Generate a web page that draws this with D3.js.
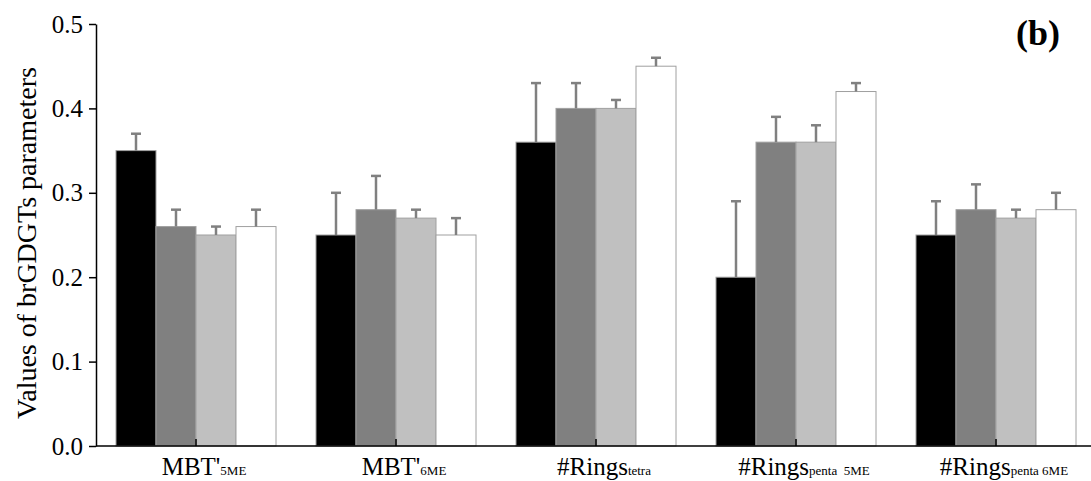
<!DOCTYPE html>
<html>
<head>
<meta charset="utf-8">
<script src="https://cdn.jsdelivr.net/npm/d3@7"></script>
<style>
  body { margin: 0; background: #fff; }
  text { font-family: "Liberation Serif", "Times New Roman", serif; }
</style>
</head>
<body>
<div id="wrapper"></div>
<script>
// categories: [main label, subscript]
const categories = [
  ["MBT'", "5ME"],
  ["MBT'", "6ME"],
  ["#Rings", "tetra"],
  ["#Rings", "penta  5ME"],
  ["#Rings", "penta 6ME"],
];
const seriesNames = ["s1", "s2", "s3", "s4"];
const seriesColors = ["#000000", "#808080", "#c0c0c0", "#ffffff"];

// mean values per category, one array per series
const values1 = [0.35, 0.25, 0.36, 0.2, 0.25];
const values2 = [0.26, 0.28, 0.4, 0.36, 0.28];
const values3 = [0.25, 0.27, 0.4, 0.36, 0.27];
const values4 = [0.26, 0.25, 0.45, 0.42, 0.28];

// upper error bar lengths
const errors1 = [0.02, 0.05, 0.07, 0.09, 0.04];
const errors2 = [0.02, 0.04, 0.03, 0.03, 0.03];
const errors3 = [0.01, 0.01, 0.01, 0.02, 0.01];
const errors4 = [0.02, 0.02, 0.01, 0.01, 0.02];

const yTicks = [0, 0.1, 0.2, 0.3, 0.4, 0.5];

function buildChart() {
  const width = 1091;
  const height = 481;
  const margin = { left: 96, top: 24, bottom: 35 };

  const svg = d3
    .select("#wrapper")
    .append("svg")
    .attr("width", width)
    .attr("height", height);

  const allValues = [values1, values2, values3, values4];
  const allErrors = [errors1, errors2, errors3, errors4];

  const x = d3
    .scaleBand()
    .domain(d3.range(categories.length))
    .range([margin.left, margin.left + 1000])
    .paddingInner(0.2)
    .paddingOuter(0.1);

  const xs = d3
    .scaleBand()
    .domain(seriesNames)
    .range([0, x.bandwidth()]);

  const y = d3
    .scaleLinear()
    .domain([0, 0.5])
    .range([height - margin.bottom, margin.top]);

  const bars = [];
  categories.forEach((c, i) => {
    seriesNames.forEach((s, j) => {
      bars.push({
        cat: i,
        series: s,
        color: seriesColors[j],
        value: allValues[j][i],
        err: allErrors[j][i],
      });
    });
  });

  const bounds = svg.append("g");

  // bars
  bounds
    .selectAll(".bar")
    .data(bars)
    .enter()
    .append("rect")
    .attr("class", "bar")
    .attr("x", (d) => x(d.cat) + xs(d.series))
    .attr("y", (d) => y(d.value))
    .attr("width", xs.bandwidth())
    .attr("height", (d) => y(0) - y(d.value))
    .attr("fill", (d) => d.color)
    .attr("stroke", "#a0a0a0")
    .attr("stroke-width", 1);

  // error bars
  const errG = bounds
    .selectAll(".err")
    .data(bars)
    .enter()
    .append("g")
    .attr("class", "err")
    .attr("stroke", "#808080")
    .attr("stroke-width", 2.5);

  const cx = (d) => x(d.cat) + xs(d.series) + xs.bandwidth() / 2;

  errG
    .append("line")
    .attr("x1", cx)
    .attr("x2", cx)
    .attr("y1", (d) => y(d.value))
    .attr("y2", (d) => y(d.value + d.err));

  errG
    .append("line")
    .attr("x1", (d) => cx(d) - 5)
    .attr("x2", (d) => cx(d) + 5)
    .attr("y1", (d) => y(d.value + d.err))
    .attr("y2", (d) => y(d.value + d.err));

  // y axis
  const yAxis = svg
    .append("g")
    .attr("transform", `translate(${margin.left},0)`)
    .call(
      d3
        .axisLeft(y)
        .tickValues(yTicks)
        .tickFormat(d3.format(".1f"))
        .tickSize(7)
        .tickSizeOuter(0)
        .tickPadding(6)
    );
  yAxis.selectAll("path, line").attr("stroke", "#000").attr("stroke-width", 1.5);
  yAxis
    .selectAll("text")
    .attr("font-size", 25)
    .attr("font-family", "Liberation Serif")
    .attr("fill", "#000");

  // x axis with inward ticks
  const xAxis = svg
    .append("g")
    .attr("transform", `translate(0,${y(0)})`)
    .call(d3.axisBottom(x).tickSize(-7).tickSizeOuter(0).tickFormat(""));
  xAxis.selectAll("path, line").attr("stroke", "#000").attr("stroke-width", 1.5);
  xAxis.select(".domain").attr("d", `M${margin.left},0H${width}`);

  // x labels with subscripts
  const labels = svg
    .selectAll(".xlabel")
    .data(categories)
    .enter()
    .append("text")
    .attr("class", "xlabel")
    .attr("x", (d, i) => x(i) + x.bandwidth() / 2 + 8)
    .attr("y", y(0) + 29)
    .attr("text-anchor", "middle")
    .attr("fill", "#000")
    .attr("font-size", 25);
  labels.append("tspan").text((d) => d[0]);
  labels
    .append("tspan")
    .attr("font-size", 13)
    .attr("xml:space", "preserve")
    .style("white-space", "pre")
    .text((d) => d[1]);

  // y title
  svg
    .append("text")
    .attr("transform", `translate(36,${(y(0) + y(0.5)) / 2 + 8}) rotate(-90)`)
    .attr("text-anchor", "middle")
    .attr("font-size", 28)
    .attr("fill", "#000")
    .text("Values of brGDGTs parameters");

  // panel tag
  svg
    .append("text")
    .attr("x", 1060)
    .attr("y", 45)
    .attr("text-anchor", "end")
    .attr("font-size", 36)
    .attr("font-weight", "bold")
    .attr("fill", "#000")
    .text("(b)");
}

buildChart();
</script>
</body>
</html>
